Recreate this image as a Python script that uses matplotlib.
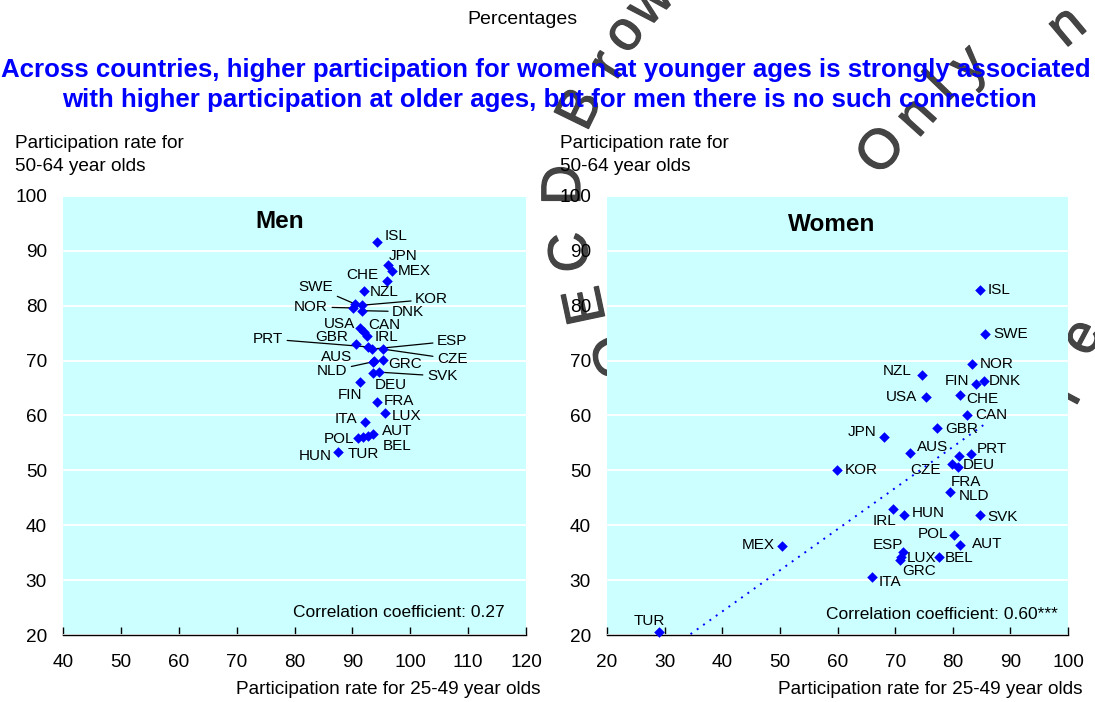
import numpy as np
import matplotlib.pyplot as plt
import matplotlib.patheffects as pe

plt.rcParams['font.family'] = ['Liberation Sans', 'DejaVu Sans']

W, H = 1095, 702

# ---- data ----
men_countries = ['ISL', 'JPN', 'MEX', 'CHE', 'NZL', 'SWE', 'NOR', 'KOR', 'DNK', 'USA',
                 'CAN', 'IRL', 'GBR', 'PRT', 'ESP', 'CZE', 'GRC', 'NLD', 'AUS', 'DEU',
                 'SVK', 'FIN', 'FRA', 'LUX', 'ITA', 'POL', 'TUR', 'BEL', 'AUT', 'HUN']
men_x = [94.3, 96.2, 96.9, 96.0, 92.0, 90.5, 90.1, 91.7, 91.7, 91.3,
         92.0, 92.5, 90.6, 92.7, 93.4, 95.3, 95.3, 93.6, 93.8, 93.6,
         94.6, 91.3, 94.3, 95.6, 92.2, 90.9, 91.8, 92.7, 93.6, 87.5]
men_y = [91.6, 87.4, 86.3, 84.5, 82.7, 80.3, 79.6, 80.1, 79.1, 76.0,
         75.2, 74.5, 73.0, 72.5, 72.1, 72.1, 70.1, 69.8, 69.9, 67.8,
         67.9, 66.1, 62.5, 60.5, 58.8, 55.9, 56.1, 56.3, 56.6, 53.4]

women_countries = ['ISL', 'SWE', 'NOR', 'NZL', 'FIN', 'DNK', 'USA', 'CHE', 'CAN', 'GBR',
                   'JPN', 'AUS', 'PRT', 'DEU', 'CZE', 'FRA', 'KOR', 'NLD', 'IRL', 'HUN',
                   'SVK', 'POL', 'MEX', 'AUT', 'ESP', 'LUX', 'BEL', 'GRC', 'ITA', 'TUR']
women_x = [84.7, 85.6, 83.3, 74.6, 84.0, 85.4, 75.4, 81.3, 82.5, 77.2,
           68.1, 72.5, 83.1, 81.1, 79.8, 80.9, 59.9, 79.5, 69.7, 71.5,
           84.7, 80.3, 50.3, 81.3, 71.3, 71.1, 77.7, 70.8, 66.0, 29.0]
women_y = [82.8, 74.9, 69.3, 67.3, 65.8, 66.3, 63.3, 63.8, 60.0, 57.8,
           56.0, 53.1, 53.0, 52.6, 51.2, 50.7, 50.0, 46.1, 43.0, 41.8,
           41.8, 38.3, 36.3, 36.4, 35.2, 34.2, 34.3, 33.6, 30.5, 20.6]

men_xticks = [40, 50, 60, 70, 80, 90, 100, 110, 120]
women_xticks = [20, 30, 40, 50, 60, 70, 80, 90, 100]
yticks = [20, 30, 40, 50, 60, 70, 80, 90, 100]

corr_men = 'Correlation coefficient: 0.27'
corr_women = 'Correlation coefficient: 0.60***'

# ---- label placement: pixel offset from point (x right, y down), alignment, leader line ----
men_labels = {
    'ISL': (7, -6, 'left', False), 'JPN': (0, -9, 'left', False),
    'MEX': (5, 0, 'left', False), 'CHE': (-9, -6, 'right', False),
    'NZL': (6, 1, 'left', False), 'SWE': (-22, -17, 'right', True),
    'NOR': (-25, -1, 'right', True), 'KOR': (53, -6, 'left', True),
    'DNK': (30, 1, 'left', True), 'USA': (-5, -4, 'right', False),
    'CAN': (4, -7, 'left', False), 'IRL': (8, 1, 'left', False),
    'GBR': (-8, -7, 'right', False), 'PRT': (-85, -8, 'right', True),
    'ESP': (65, -8, 'left', True), 'AUS': (-22, -4, 'right', False),
    'CZE': (54, 10, 'left', True), 'GRC': (5, 4, 'left', False),
    'NLD': (-26, 9, 'right', True), 'SVK': (48, 4, 'left', True),
    'DEU': (2, 12, 'left', False), 'FIN': (2, 13, 'right', False),
    'FRA': (6, -1, 'left', False), 'LUX': (7, 3, 'left', False),
    'ITA': (-8, -3, 'right', False), 'AUT': (9, -3, 'left', False),
    'POL': (-3, 1, 'right', False), 'BEL': (15, 10, 'left', False),
    'TUR': (-15, 17, 'left', False), 'HUN': (-6, 4, 'right', False),
}
women_labels = {
    'ISL': (8, 0, 'left', False), 'SWE': (8, 0, 'left', False),
    'NOR': (8, 0, 'left', False), 'NZL': (-10, -4, 'right', False),
    'FIN': (-7, -3, 'right', False), 'DNK': (5, 0, 'left', False),
    'USA': (-9, 0, 'right', False), 'CHE': (6, 4, 'left', False),
    'CAN': (8, 0, 'left', False), 'GBR': (9, 1, 'left', False),
    'JPN': (-8, -5, 'right', False), 'AUS': (7, -6, 'left', False),
    'PRT': (6, -5, 'left', False), 'DEU': (4, 9, 'left', False),
    'CZE': (-11, 6, 'right', False), 'FRA': (-7, 15, 'left', False),
    'KOR': (8, 0, 'left', False), 'NLD': (9, 4, 'left', False),
    'IRL': (3, 12, 'right', False), 'HUN': (8, -2, 'left', False),
    'SVK': (8, 2, 'left', False), 'POL': (-6, -1, 'right', False),
    'MEX': (-7, -1, 'right', False), 'AUT': (12, -1, 'left', False),
    'ESP': (1, -7, 'right', False), 'LUX': (5, 1, 'left', False),
    'BEL': (5, 1, 'left', False), 'GRC': (3, 11, 'left', False),
    'ITA': (7, 5, 'left', False), 'TUR': (-10, -11, 'center', False),
}

BLUE = '#0000FF'
BG = '#CCFFFF'


def fx(x):
    return x / W


def fy(y):
    return 1 - y / H


def draw_panel(ax, countries, xs, ys, labels, xticks):
    ax.set_facecolor(BG)
    ax.set_xlim(xticks[0], xticks[-1])
    ax.set_ylim(20, 100)
    ax.set_xticks(xticks)
    ax.set_yticks(yticks)
    for s in ['top', 'right', 'left']:
        ax.spines[s].set_visible(False)
    ax.spines['bottom'].set_linewidth(1)
    ax.tick_params(axis='x', direction='in', length=6, width=1, pad=14, labelsize=13.7)
    ax.tick_params(axis='y', length=0, pad=11.5, labelsize=13.7)
    ax.yaxis.grid(True, color='white', lw=1.3)
    ax.set_axisbelow(True)
    ax.scatter(xs, ys, marker='D', s=29, color=BLUE, linewidths=0, zorder=4, clip_on=False)
    for c, x, y in zip(countries, xs, ys):
        dx, dy, ha, lead = labels[c]
        arrow = dict(arrowstyle='-', color='black', lw=0.9, shrinkA=1, shrinkB=0) if lead else None
        ax.annotate(c, (x, y), xytext=(dx, -dy), textcoords='offset pixels',
                    ha=ha, va='center', fontsize=11, arrowprops=arrow, zorder=3)


fig = plt.figure(figsize=(W / 100, H / 100), dpi=100)

# watermark letters, drawn behind the plot areas
watermark = [('O', 618, 355, 108), ('E', 588, 305, 102), ('C', 573, 252, 95), ('D', 566, 185, 90),
             ('B', 582, 110, 64), ('r', 609, 66, 58), ('o', 626, 35, 52), ('w', 652, 4, 47),
             ('O', 883, 152, 50), ('n', 918, 118, 48), ('l', 942, 88, 46), ('y', 970, 66, 44),
             ('n', 1068, 28, 40), ('e', 1084, 338, 62), ('l', 1066, 395, 62)]
for ch, x, y, rot in watermark:
    fig.text(fx(x), fy(y), ch, fontsize=40, color='#444444', rotation=rot,
             rotation_mode='anchor', ha='center', va='center', zorder=-5,
             path_effects=[pe.withStroke(linewidth=0.9, foreground='#444444')])

ax1 = fig.add_axes([fx(63), fy(635), (526 - 63) / W, (635 - 196) / H])
ax2 = fig.add_axes([fx(607), fy(635), (1068 - 607) / W, (635 - 196) / H])

draw_panel(ax1, men_countries, men_x, men_y, men_labels, men_xticks)
draw_panel(ax2, women_countries, women_x, women_y, women_labels, women_xticks)

# linear trend for women
slope, intercept = np.polyfit(women_x, women_y, 1)
tx = np.array([min(women_x), max(women_x)])
ax2.plot(tx, intercept + slope * tx, color=BLUE, lw=1.4, ls=(0, (1, 3)), zorder=2)

# panel titles and correlation notes
fig.text(fx(279.5), fy(228), 'Men', fontsize=17.5, fontweight='bold', ha='center', va='baseline')
fig.text(fx(832), fy(231), 'Women', fontsize=17.5, fontweight='bold', ha='center', va='baseline')
fig.text(fx(505), fy(617), corr_men, fontsize=12.5, ha='right', va='baseline')
fig.text(fx(1058), fy(619), corr_women, fontsize=12.5, ha='right', va='baseline')

# axis labels
for x0 in [15, 560]:
    fig.text(fx(x0), fy(148), 'Participation rate for', fontsize=13.7, ha='left', va='baseline')
    fig.text(fx(x0), fy(171), '50-64 year olds', fontsize=13.7, ha='left', va='baseline')
for x1 in [540, 1082]:
    fig.text(fx(x1), fy(694), 'Participation rate for 25-49 year olds', fontsize=13.7,
             ha='right', va='baseline')

# headings
fig.text(fx(522), fy(20), 'Percentages', fontsize=14, ha='center', va='center')
fig.text(fx(546), fy(70), 'Across countries, higher participation for women at younger ages is strongly associated',
         fontsize=18.6, fontweight='bold', color=BLUE, ha='center', va='center')
fig.text(fx(549), fy(100), 'with higher participation at older ages, but for men there is no such connection',
         fontsize=18.6, fontweight='bold', color=BLUE, ha='center', va='center')

fig.savefig('out.png', dpi=100)
